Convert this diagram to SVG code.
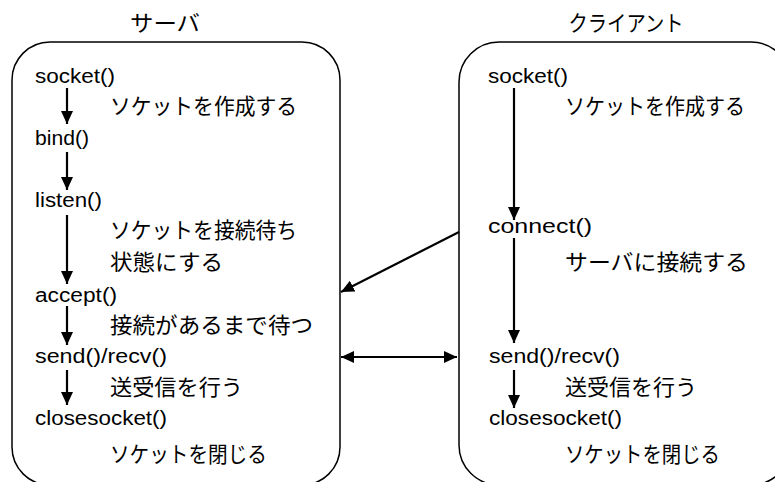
<svg xmlns="http://www.w3.org/2000/svg" width="775" height="482" viewBox="0 0 775 482">
<style>
text{font-family:"Noto Sans CJK JP","Liberation Sans",sans-serif;font-size:22px;fill:#000}
.l{font-family:"Liberation Sans","Noto Sans CJK JP",sans-serif;font-size:20px}
.t{font-size:22px;text-anchor:middle}
.box{fill:#fff;stroke:#000;stroke-width:1.5}
.c{stroke:#000;stroke-width:2.2;fill:none}
</style>
<defs>
<marker id="ah" markerUnits="userSpaceOnUse" markerWidth="14" markerHeight="14" viewBox="0 0 14 14" refX="13" refY="7" orient="auto-start-reverse">
<path d="M0,1 L13,7 L0,13 Z" fill="#000"/>
</marker>
</defs>
<g id="server">
<rect class="box" x="12" y="42" width="328" height="443" rx="38" ry="38"/>
<text class="t" x="165" y="31" textLength="70" lengthAdjust="spacingAndGlyphs">サーバ</text>
<text class="l" x="35" y="83" textLength="80" lengthAdjust="spacingAndGlyphs">socket()</text>
<text x="110" y="114" textLength="187" lengthAdjust="spacingAndGlyphs">ソケットを作成する</text>
<text class="l" x="35" y="145" textLength="54" lengthAdjust="spacingAndGlyphs">bind()</text>
<text class="l" x="35" y="207" textLength="67" lengthAdjust="spacingAndGlyphs">listen()</text>
<text x="110" y="238" textLength="187" lengthAdjust="spacingAndGlyphs">ソケットを接続待ち</text>
<text x="110" y="270" textLength="113" lengthAdjust="spacingAndGlyphs">状態にする</text>
<text class="l" x="35" y="302" textLength="82" lengthAdjust="spacingAndGlyphs">accept()</text>
<text x="110" y="333" textLength="203" lengthAdjust="spacingAndGlyphs">接続があるまで待つ</text>
<text class="l" x="35" y="363" textLength="132" lengthAdjust="spacingAndGlyphs">send()/recv()</text>
<text x="110" y="395" textLength="133" lengthAdjust="spacingAndGlyphs">送受信を行う</text>
<text class="l" x="35" y="425" textLength="132" lengthAdjust="spacingAndGlyphs">closesocket()</text>
<text x="110" y="462" textLength="157" lengthAdjust="spacingAndGlyphs">ソケットを閉じる</text>
</g>
<g id="client">
<rect class="box" x="459" y="42" width="332" height="443" rx="40" ry="40"/>
<text class="t" x="626" y="31" textLength="115" lengthAdjust="spacingAndGlyphs">クライアント</text>
<text class="l" x="488" y="83" textLength="80" lengthAdjust="spacingAndGlyphs">socket()</text>
<text x="565" y="114" textLength="180" lengthAdjust="spacingAndGlyphs">ソケットを作成する</text>
<text class="l" x="488" y="233" textLength="104" lengthAdjust="spacingAndGlyphs">connect()</text>
<text x="565" y="270" textLength="183" lengthAdjust="spacingAndGlyphs">サーバに接続する</text>
<text class="l" x="489" y="363" textLength="131" lengthAdjust="spacingAndGlyphs">send()/recv()</text>
<text x="565" y="395" textLength="132" lengthAdjust="spacingAndGlyphs">送受信を行う</text>
<text class="l" x="489" y="425" textLength="133" lengthAdjust="spacingAndGlyphs">closesocket()</text>
<text x="565" y="462" textLength="155" lengthAdjust="spacingAndGlyphs">ソケットを閉じる</text>
</g>
<g id="connectors">
<line class="c" x1="67" y1="88" x2="67" y2="124" marker-end="url(#ah)"/>
<line class="c" x1="67" y1="152" x2="67" y2="190" marker-end="url(#ah)"/>
<line class="c" x1="67" y1="215" x2="67" y2="284" marker-end="url(#ah)"/>
<line class="c" x1="67" y1="306" x2="67" y2="345" marker-end="url(#ah)"/>
<line class="c" x1="67" y1="370" x2="67" y2="405" marker-end="url(#ah)"/>
<line class="c" x1="514" y1="88" x2="514" y2="220" marker-end="url(#ah)"/>
<line class="c" x1="514" y1="238" x2="514" y2="343" marker-end="url(#ah)"/>
<line class="c" x1="514" y1="370" x2="514" y2="408" marker-end="url(#ah)"/>
<line class="c" x1="459" y1="232" x2="341" y2="292" marker-end="url(#ah)"/>
<line class="c" x1="341" y1="357" x2="457" y2="357" marker-start="url(#ah)" marker-end="url(#ah)"/>
</g>
</svg>
